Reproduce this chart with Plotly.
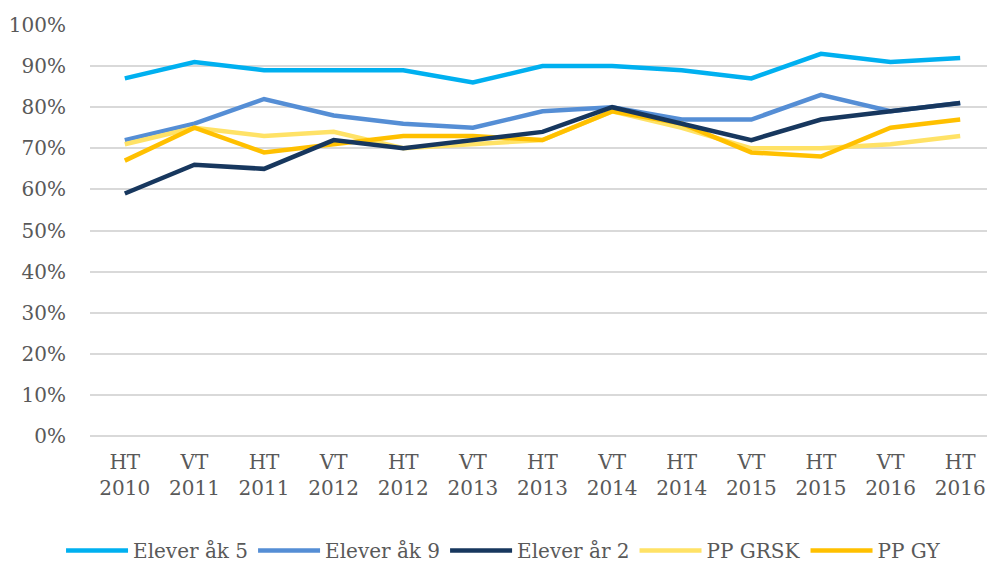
import plotly.graph_objects as go

periods = ["HT<br>2010", "VT<br>2011", "HT<br>2011", "VT<br>2012", "HT<br>2012", "VT<br>2013",
           "HT<br>2013", "VT<br>2014", "HT<br>2014", "VT<br>2015", "HT<br>2015", "VT<br>2016",
           "HT<br>2016"]

elever_ak5 = [0.87, 0.91, 0.89, 0.89, 0.89, 0.86, 0.90, 0.90, 0.89, 0.87, 0.93, 0.91, 0.92]
elever_ak9 = [0.72, 0.76, 0.82, 0.78, 0.76, 0.75, 0.79, 0.80, 0.77, 0.77, 0.83, 0.79, 0.81]
elever_ar2 = [0.59, 0.66, 0.65, 0.72, 0.70, 0.72, 0.74, 0.80, 0.76, 0.72, 0.77, 0.79, 0.81]
pp_grsk = [0.71, 0.75, 0.73, 0.74, 0.70, 0.71, 0.72, 0.79, 0.75, 0.70, 0.70, 0.71, 0.73]
pp_gy = [0.67, 0.75, 0.69, 0.71, 0.73, 0.73, 0.72, 0.79, 0.76, 0.69, 0.68, 0.75, 0.77]

series = [
    ("Elever åk 5", elever_ak5, "#00B0F0"),
    ("Elever åk 9", elever_ak9, "#558ED5"),
    ("Elever år 2", elever_ar2, "#17375E"),
    ("PP GRSK", pp_grsk, "#FFE266"),
    ("PP GY", pp_gy, "#FFC000"),
]

# draw order in the reference: yellow lines under the navy one
draw_order = [0, 1, 3, 4, 2]

fig = go.Figure()
for i in draw_order:
    name, vals, color = series[i]
    fig.add_trace(go.Scatter(
        x=periods, y=vals, name=name, mode="lines",
        line=dict(color=color, width=4.5),
        legendrank=i,
    ))

# the page adds an 8px body margin, so the figure is sized to fill the rest
fig.update_layout(
    width=987, height=562,
    plot_bgcolor="white", paper_bgcolor="white",
    margin=dict(l=82, r=0, t=17, b=133),
    font=dict(family="DejaVu Serif, Liberation Serif, serif", size=20, color="#595959"),
    showlegend=True,
    legend=dict(
        orientation="h", x=-0.032, xanchor="left", y=-0.232, yanchor="top",
        font=dict(size=20, color="#595959"), traceorder="normal",
        itemwidth=62, tracegroupgap=0,
    ),
    xaxis=dict(
        type="category", range=[-0.5, 12.5], showgrid=False, showline=False, ticks="",
        ticklabelstandoff=12, automargin=False,
    ),
    yaxis=dict(
        range=[0, 1.0], dtick=0.1, tickformat=".0%",
        showgrid=True, gridcolor="#D9D9D9", gridwidth=1.5,
        zeroline=True, zerolinecolor="#D9D9D9", zerolinewidth=1.5,
        showline=False, ticks="", ticklabelstandoff=23, automargin=False,
    ),
)

fig.write_html("out.html")
